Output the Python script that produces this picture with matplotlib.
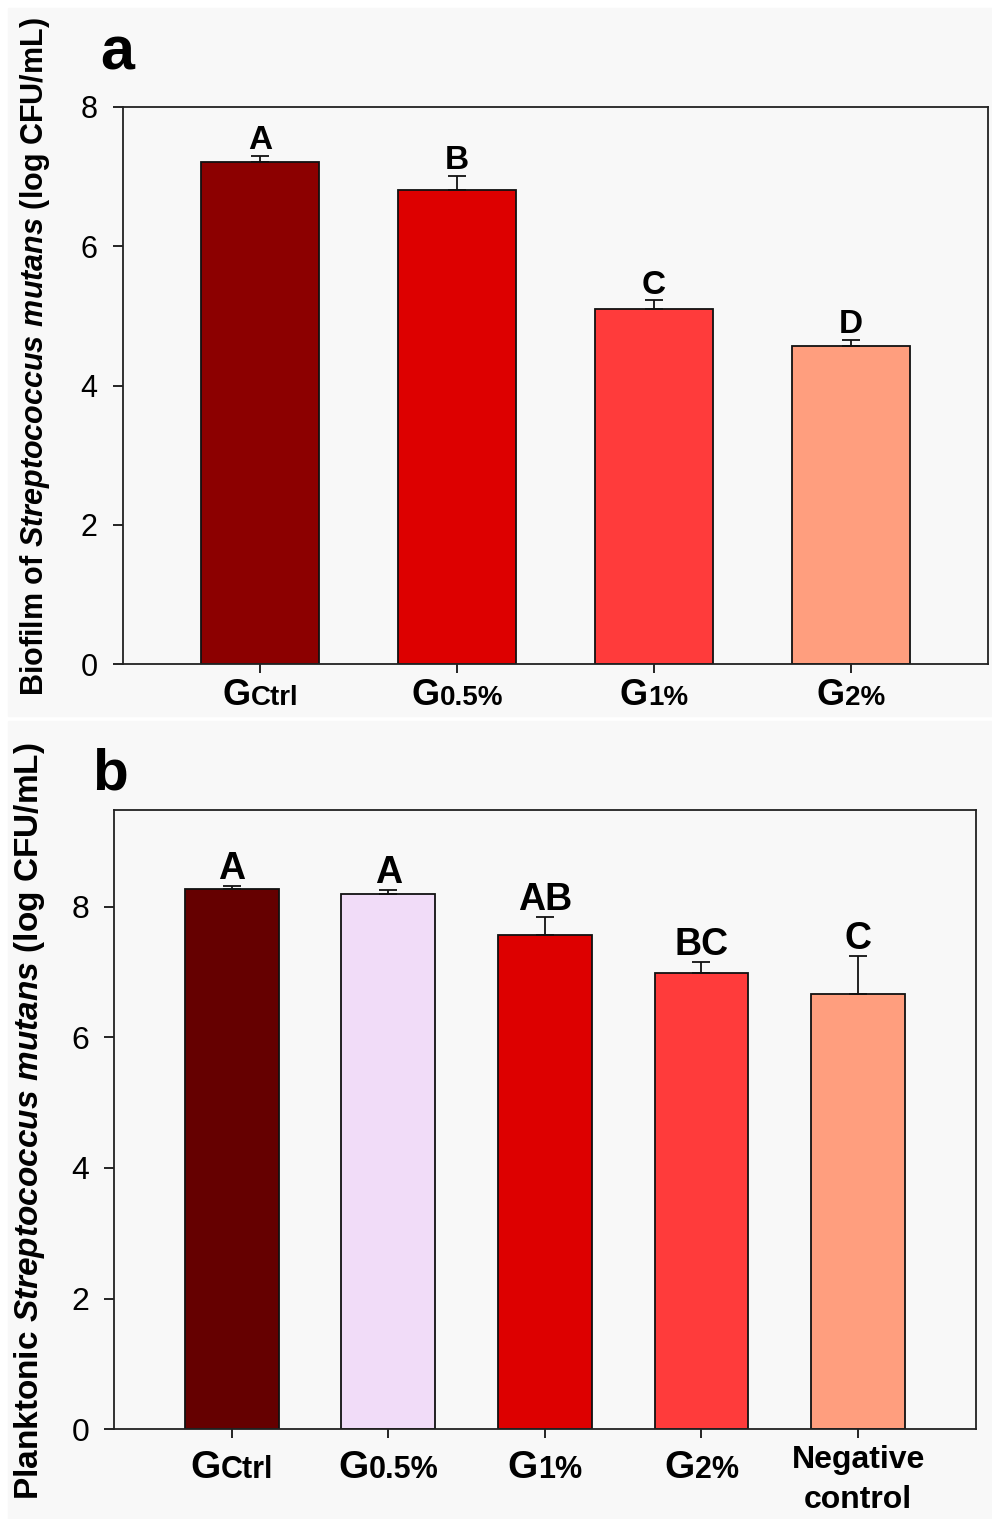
import matplotlib
matplotlib.use("Agg")
import matplotlib.pyplot as plt
from matplotlib.offsetbox import TextArea, HPacker, AnnotationBbox
from matplotlib.patches import Rectangle

plt.rcParams['font.family'] = ['Liberation Sans', 'DejaVu Sans']
plt.rcParams['mathtext.fontset'] = 'custom'
plt.rcParams['mathtext.rm'] = 'Liberation Sans:bold'
plt.rcParams['mathtext.it'] = 'Liberation Sans:bold:italic'
plt.rcParams['mathtext.bf'] = 'Liberation Sans:bold'

# ---------------- data ----------------
a_groups = ["Ctrl", "0.5%", "1%", "2%"]
a_means = [7.21, 6.80, 5.10, 4.57]
a_err = [0.08, 0.20, 0.12, 0.08]
a_letters = ["A", "B", "C", "D"]
a_colors = ["#8C0000", "#DD0000", "#FF3B3B", "#FF9E7E"]

b_groups = ["Ctrl", "0.5%", "1%", "2%", "Negative\ncontrol"]
b_means = [8.27, 8.20, 7.56, 6.99, 6.67]
b_err = [0.05, 0.06, 0.28, 0.16, 0.58]
b_letters = ["A", "A", "AB", "BC", "C"]
b_colors = ["#650000", "#F1DCF8", "#DD0000", "#FF3B3B", "#FF9E7E"]

W, H = 992, 1519
fig = plt.figure(figsize=(W / 100, H / 100), dpi=100, facecolor="white")
bg = "#F8F8F8"
fig.patches.append(Rectangle((8 / W, 1 - 716 / H), 1, (716 - 8) / H,
                             transform=fig.transFigure, color=bg, zorder=-10))
fig.patches.append(Rectangle((8 / W, 0), 1, 1 - 721 / H,
                             transform=fig.transFigure, color=bg, zorder=-10))


def px_axes(l, r, t, b):
    return [l / W, 1 - b / H, (r - l) / W, (b - t) / H]


def draw(ax, groups, means, errs, letters, colors, xlim, ylim, tick_fs,
         big_fs, small_fs, letter_fs, lab_off, neg_fs=None):
    x = list(range(len(means)))
    ax.set_facecolor(bg)
    ax.bar(x, means, width=0.6, color=colors, edgecolor="#111111",
           linewidth=1.3, zorder=2)
    ax.errorbar(x, means, yerr=[[0] * len(errs), errs], fmt="none",
                ecolor="#111111", elinewidth=1.3, capsize=6.5, capthick=1.3,
                zorder=3)
    for xi, m, e, L in zip(x, means, errs, letters):
        ax.annotate(L, (xi, m + e), xytext=(0, 5), textcoords="offset points",
                    ha="center", va="baseline", fontsize=letter_fs,
                    fontweight="bold")
    ax.set_xlim(*xlim)
    ax.set_ylim(*ylim)
    ax.set_yticks([0, 2, 4, 6, 8])
    ax.tick_params(axis="y", direction="out", length=7, width=1.2,
                   labelsize=tick_fs, pad=11)
    ax.set_xticks(x)
    ax.set_xticklabels([""] * len(x))
    ax.tick_params(axis="x", direction="out", length=6.5, width=1.2)
    for s in ax.spines.values():
        s.set_linewidth(1.3)
        s.set_color("#222222")
    for xi, g in zip(x, groups):
        if g.startswith("Negative"):
            ax.annotate(g, (xi, 0), xycoords=("data", "axes fraction"),
                        xytext=(0, -11), textcoords="offset points",
                        ha="center", va="top", fontsize=neg_fs,
                        fontweight="bold", linespacing=1.45,
                        annotation_clip=False)
        else:
            p = HPacker(children=[
                TextArea("G", textprops=dict(fontsize=big_fs, fontweight="bold")),
                TextArea(g, textprops=dict(fontsize=small_fs, fontweight="bold"))],
                align="baseline", pad=0, sep=0)
            ab = AnnotationBbox(p, (xi, 0), xycoords=("data", "axes fraction"),
                                xybox=(0, -lab_off), boxcoords="offset points",
                                box_alignment=(0.5, 1), frameon=False,
                                annotation_clip=False)
            ax.add_artist(ab)


axa = fig.add_axes(px_axes(122.7, 988.3, 106.7, 664.3))
draw(axa, a_groups, a_means, a_err, a_letters, a_colors, (-0.7, 3.7), (0, 8),
     22, 26, 20, 24, 10)

axb = fig.add_axes(px_axes(114.3, 975.5, 810, 1429.3))
draw(axb, b_groups, b_means, b_err, b_letters, b_colors, (-0.75, 4.75),
     (0, 9.48), 23, 28, 22, 27, 15, neg_fs=23)

fig.text(35 / W, 1 - 357 / H,
         r"Biofilm of $\mathit{Streptococcus\ mutans}$ (log CFU/mL)",
         rotation=90, ha="center", va="center", fontsize=22, fontweight="bold")
fig.text(30 / W, 1 - 1121 / H,
         r"Planktonic $\mathit{Streptococcus\ mutans}$ (log CFU/mL)",
         rotation=90, ha="center", va="center", fontsize=24, fontweight="bold")

fig.text(100 / W, 1 - 70 / H, "a", fontsize=44, fontweight="bold",
         ha="left", va="baseline")
fig.text(92 / W, 1 - 790 / H, "b", fontsize=42, fontweight="bold",
         ha="left", va="baseline")

fig.savefig("out.png", dpi=100, facecolor=fig.get_facecolor())
